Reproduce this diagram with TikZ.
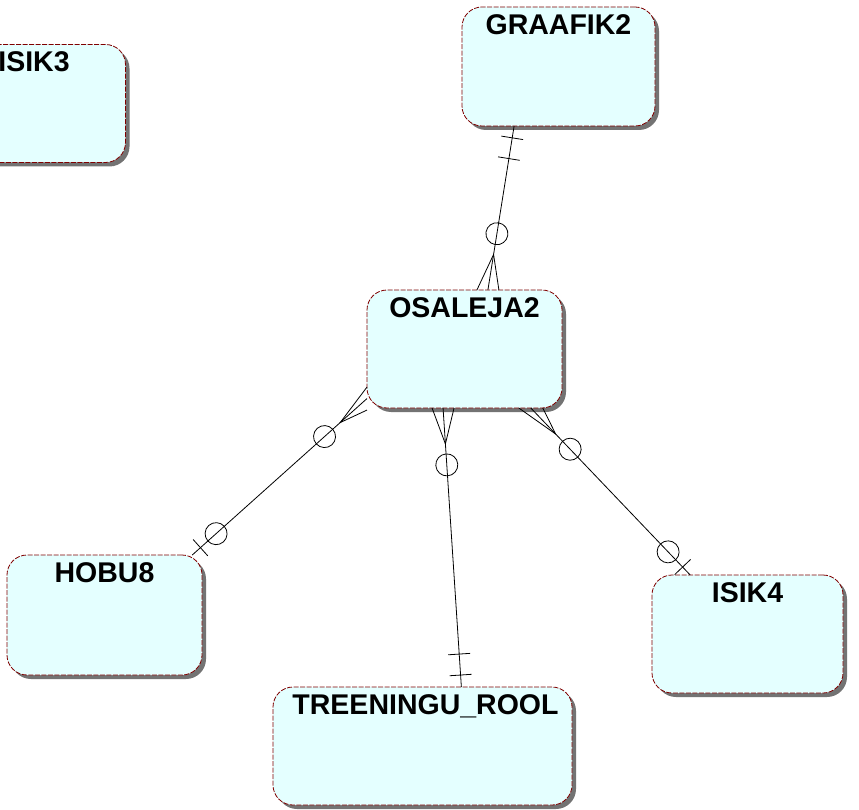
\documentclass[tikz,border=0pt]{standalone}
\usepackage{fontspec}
\setmainfont{Liberation Sans}
\usetikzlibrary{calc,positioning,shadows,decorations.markings}

\definecolor{boxline}{RGB}{128,0,0}
\definecolor{boxfill}{RGB}{228,255,255}

\tikzset{
  entity/.style={draw=boxline, fill=boxfill, dash pattern=on 5pt off 1.5pt,
    line width=0.8pt, rounded corners=20pt, minimum width=195pt,
    minimum height=118pt, inner sep=0pt, outer sep=0pt,
    drop shadow={shadow xshift=4pt, shadow yshift=-4pt, fill=black!55, opacity=1}},
  title/.style={font=\bfseries\fontsize{28.5}{30}\selectfont, inner sep=0pt},
  rel/.style={black, line width=0.8pt},
  % one and only one at the start, zero or many at the end
  mandatory/.style={postaction={decoration={markings,
      mark=at position 12pt with {\draw[rel] (0,-11pt) -- (0,11pt);},
      mark=at position 33pt with {\draw[rel] (0,-11pt) -- (0,11pt);},
      mark=at position -57pt with {\draw[rel] (0,0) circle (11pt);}}, decorate}},
  % zero or one at the start, zero or many at the end
  optional/.style={postaction={decoration={markings,
      mark=at position 11pt with {\draw[rel] (0,-11pt) -- (0,11pt);},
      mark=at position 32pt with {\draw[rel] (0,0) circle (11pt);},
      mark=at position -57pt with {\draw[rel] (0,0) circle (11pt);}}, decorate}}
}

\begin{document}
\begin{tikzpicture}[x=1pt,y=-1pt]
  \useasboundingbox (0,0) rectangle (859,810);

  % Entities
  \node[entity] (isik3) at (28,103.5) {};
  \node[entity, minimum width=193pt, minimum height=119pt] (graafik) at (558.5,66.5) {};
  \node[entity] (osaleja) at (464.5,349) {};
  \node[entity, minimum height=120pt] (hobu) at (104.5,615) {};
  \node[entity, minimum width=191pt] (isik4) at (747.5,634) {};
  \node[entity, minimum width=299pt] (treeningu) at (422.5,746) {};

  % Titles
  \node[title, below=7pt of isik3.north, xshift=6pt] (isik3T) {ISIK3};
  \node[title, below=7pt of graafik.north] (graafikT) {GRAAFIK2};
  \node[title, below=7pt of osaleja.north] (osalejaT) {OSALEJA2};
  \node[title, below=7pt of hobu.north] (hobuT) {HOBU8};
  \node[title, below=7pt of isik4.north] (isik4T) {ISIK4};
  \node[title, below=7pt of treeningu.north, xshift=3pt] (treeninguT) {TREENINGU\_ROOL};

  % Line ends on the borders
  \coordinate (gB) at ($(graafik.south west)!0.27!(graafik.south east)$);
  \coordinate (oT) at ($(osaleja.north west)!0.62!(osaleja.north east)$);
  \coordinate (oL) at ($(osaleja.north west)!0.92!(osaleja.south west)$);
  \coordinate (hT) at ($(hobu.north west)!0.95!(hobu.north east)$);
  \coordinate (oB1) at ($(osaleja.south west)!0.39!(osaleja.south east)$);
  \coordinate (tT) at ($(treeningu.north west)!0.63!(treeningu.north east)$);
  \coordinate (oB2) at ($(osaleja.south west)!0.84!(osaleja.south east)$);
  \coordinate (iT) at ($(isik4.north west)!0.2!(isik4.north east)$);

  % Relationships
  \draw[rel, mandatory] (gB) -- (oT);
  \draw[rel, optional] (hT) -- (oL);
  \draw[rel, mandatory] (tT) -- (oB1);
  \draw[rel, optional] (iT) -- (oB2);

  % Crow's feet
  \foreach \p/\c/\dx/\dy in {gB/oT/11/0, hT/oL/0/11.5, tT/oB1/11/0, iT/oB2/12/0} {
    \draw[rel] ($(\c)+(\dx,\dy)$) -- ($(\c)!36pt!(\p)$) -- ($(\c)-(\dx,\dy)$);
  }
\end{tikzpicture}
\end{document}
